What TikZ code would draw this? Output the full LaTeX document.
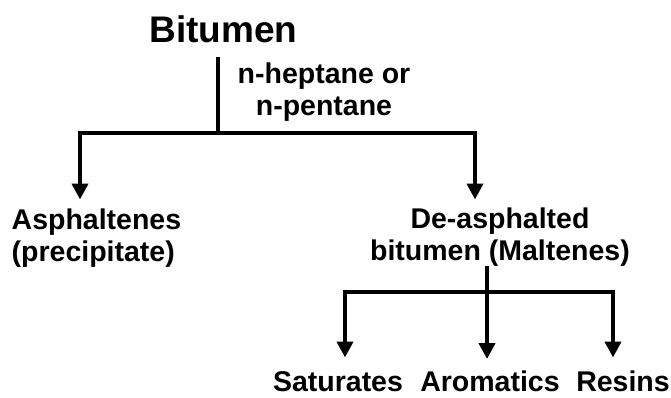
\documentclass[tikz,border=0pt]{standalone}
\usepackage{fontspec}
\setmainfont{Liberation Sans}
\usetikzlibrary{arrows.meta}
\begin{document}
\begin{tikzpicture}[x=1pt,y=-1pt,
  txt/.style={inner sep=0pt,font=\fontsize{28.5}{32}\selectfont\bfseries},
  title/.style={inner sep=0pt,font=\fontsize{37}{40}\selectfont\bfseries},
  conn/.style={line width=4.8pt,line join=miter,line cap=butt},
  arr/.style={conn,-{Triangle[width=16pt,length=16pt]}}]
\useasboundingbox[fill=white] (0,0) rectangle (671,397);
% texts (multi-line nodes: base = baseline of last line)
\node[title,anchor=base] (bit) at (223.5,42) {Bitumen};
\node[txt,anchor=base,align=center] (solv) at (324,115.5) {n-heptane or\\n-pentane};
\node[txt,anchor=base west,align=left] (asph) at (11.5,261) {Asphaltenes\\(precipitate)};
\node[txt,anchor=base,align=center] (malt) at (500,260) {De-asphalted\\bitumen (Maltenes)};
\node[txt,anchor=base] (sat) at (338,391.5) {Saturates};
\node[txt,anchor=base] (aro) at (490,391.5) {Aromatics};
\node[txt,anchor=base] (res) at (623,391.5) {Resins};
% junction points
\coordinate (t1) at (218,57);
\coordinate (j1) at (218,133);
\coordinate (a1) at (80,199.5);
\coordinate (d1) at (475,199.5);
\coordinate (m1) at (487,266);
\coordinate (m2) at (487,292);
\coordinate (s1) at (345,357.5);
\coordinate (r1) at (613,357.5);
\coordinate (c1) at (487,359);
% connectors
\draw[conn] (t1) -- (j1);
\draw[arr] (j1) -| (a1);
\draw[arr] (j1) -| (d1);
\draw[arr] (m1) -- (c1);
\draw[arr] (m2) -| (s1);
\draw[arr] (m2) -| (r1);
\end{tikzpicture}
\end{document}
